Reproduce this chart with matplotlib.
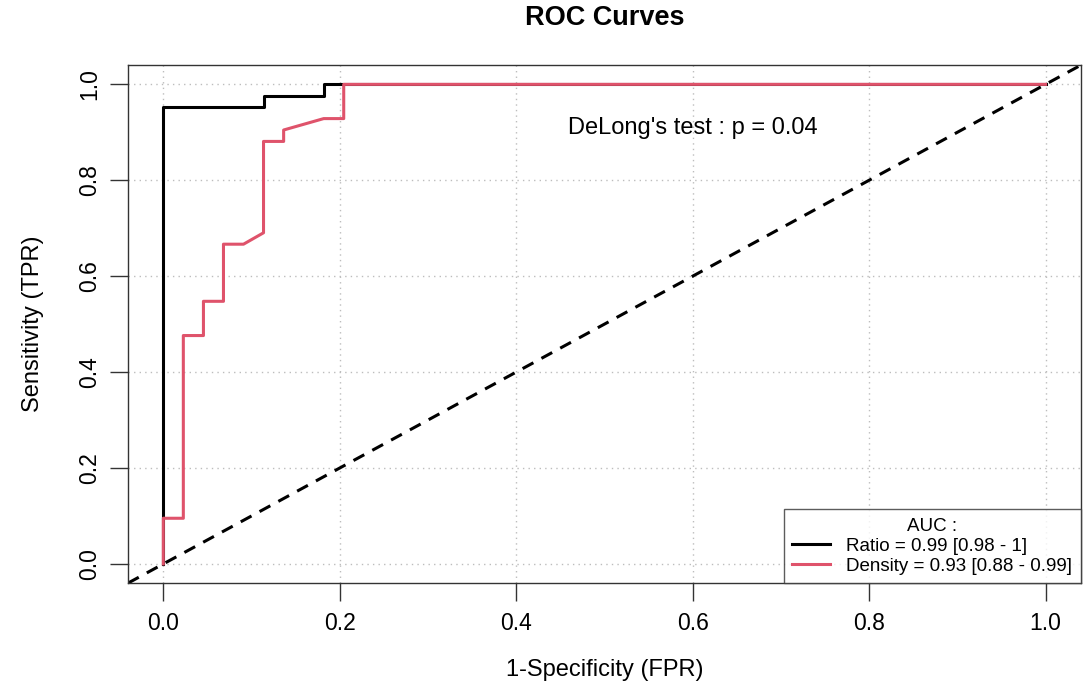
import numpy as np
import matplotlib.pyplot as plt

plt.rcParams['font.family'] = ['Liberation Sans', 'DejaVu Sans']

# ROC steps (FPR, TPR)
ratio_fpr = [0.0, 0.0, 0.1136, 0.1136, 0.1818, 0.1818, 1.0]
ratio_tpr = [0.0, 0.9524, 0.9524, 0.9762, 0.9762, 1.0, 1.0]

density_fpr = [0.0, 0.0, 0.0227, 0.0227, 0.0455, 0.0455, 0.0682, 0.0682, 0.0909,
               0.1136, 0.1136, 0.1364, 0.1364, 0.1818, 0.2045, 0.2045, 1.0]
density_tpr = [0.0, 0.0952, 0.0952, 0.4762, 0.4762, 0.5476, 0.5476, 0.6667, 0.6667,
               0.6905, 0.8810, 0.8810, 0.9048, 0.9286, 0.9286, 1.0, 1.0]

ticks = [0.0, 0.2, 0.4, 0.6, 0.8, 1.0]
tick_labels = ['0.0', '0.2', '0.4', '0.6', '0.8', '1.0']

fig = plt.figure(figsize=(10.83, 6.86), dpi=100)
ax = fig.add_axes([0.1182, 0.150, 0.8798, 0.755])

ax.set_xlim(-0.04, 1.04)
ax.set_ylim(-0.04, 1.04)

for t in ticks:
    ax.axvline(t, color='#bdbdbd', lw=1, ls=(0, (1, 3)), zorder=0)
    ax.axhline(t, color='#bdbdbd', lw=1, ls=(0, (1, 3)), zorder=0)

ax.plot([-0.04, 1.04], [-0.04, 1.04], color='black', lw=2.2, ls=(0, (4, 3)), zorder=1)
ax.plot(ratio_fpr, ratio_tpr, color='black', lw=2.2, label='Ratio = 0.99 [0.98 - 1]', zorder=2)
ax.plot(density_fpr, density_tpr, color='#DF536B', lw=2.2, label='Density = 0.93 [0.88 - 0.99]', zorder=3)

ax.text(0.6, 0.91, "DeLong's test : p = 0.04", ha='center', va='center', fontsize=17)

ax.set_xticks(ticks)
ax.set_xticklabels(tick_labels, fontsize=16.5)
ax.set_yticks(ticks)
ax.set_yticklabels(tick_labels, fontsize=16.5, rotation=90, va='center')
ax.tick_params(direction='out', length=13, width=1, color='#333333')
ax.tick_params(axis='x', pad=8)
ax.tick_params(axis='y', pad=6)
for s in ax.spines.values():
    s.set_color('#333333')
    s.set_linewidth(1)

ax.set_xlabel('1-Specificity (FPR)', fontsize=17, va='center')
ax.xaxis.set_label_coords(0.5, -0.168)
ax.set_ylabel('Sensitivity (TPR)', fontsize=17, va='center')
ax.yaxis.set_label_coords(-0.0997, 0.5)
fig.text(0.558, 0.974, 'ROC Curves', fontsize=19.5, fontweight='bold', ha='center', va='center')

leg = ax.legend(loc='lower right', title='AUC :', fontsize=13.5, title_fontsize=13.5,
                frameon=True, fancybox=False, borderaxespad=0, handlelength=2.0,
                handletextpad=0.9, borderpad=0.45, labelspacing=0.15)
leg.get_frame().set_edgecolor('#333333')
leg.get_frame().set_linewidth(1)

fig.savefig('out.png', dpi=100)
